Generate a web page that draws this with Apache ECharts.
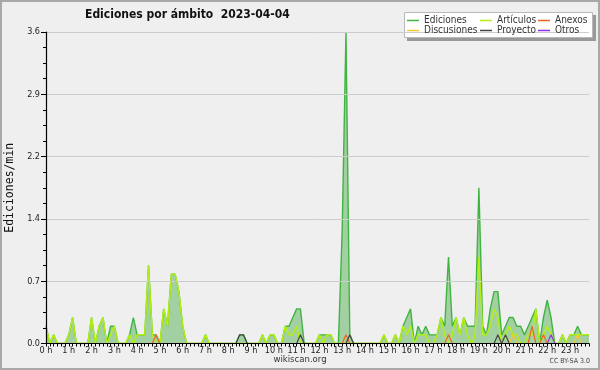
<!DOCTYPE html>
<html>
<head>
<meta charset="utf-8">
<script src="https://cdn.jsdelivr.net/npm/echarts@6/dist/echarts.min.js"></script>
<style>
  html, body { margin: 0; padding: 0; background: #efeff0; }
  #chart { width: 600px; height: 370px; }
</style>
</head>
<body>
<div id="chart"></div>
<script>
// one value every 10 minutes, one row per hour
const HOUR_LABELS = ['0 h', '1 h', '2 h', '3 h', '4 h', '5 h', '6 h', '7 h', '8 h', '9 h', '10 h', '11 h',
  '12 h', '13 h', '14 h', '15 h', '16 h', '17 h', '18 h', '19 h', '20 h', '21 h', '22 h', '23 h']

const ediciones = [
  0.2, 0, 0.1, 0, 0, 0,
  0.1, 0.3, 0, 0, 0, 0,
  0.3, 0, 0.2, 0.3, 0, 0.2,
  0.2, 0, 0, 0, 0.1, 0.3,
  0.1, 0.1, 0.1, 0.9, 0.1, 0.1,
  0, 0.4, 0.2, 0.8, 0.8, 0.6,
  0.2, 0, 0, 0, 0, 0,
  0.1, 0, 0, 0, 0, 0,
  0, 0, 0, 0.1, 0.1, 0,
  0, 0, 0, 0.1, 0, 0.1,
  0.1, 0, 0, 0.2, 0.2, 0.3,
  0.4, 0.4, 0, 0, 0, 0,
  0.1, 0.1, 0.1, 0.1, 0, 0,
  1.3, 3.6, 0.1, 0, 0, 0,
  0, 0, 0, 0, 0, 0.1,
  0, 0, 0.1, 0, 0.2, 0.3,
  0.4, 0, 0.2, 0.1, 0.2, 0.1,
  0.1, 0.1, 0.3, 0.2, 1.0, 0.2,
  0.3, 0.1, 0.3, 0.2, 0.2, 0.2,
  1.8, 0.2, 0.1, 0.4, 0.6, 0.6,
  0.1, 0.2, 0.3, 0.3, 0.2, 0.2,
  0.1, 0.2, 0.3, 0.4, 0, 0.3,
  0.5, 0.3, 0, 0, 0.1, 0,
  0.1, 0.1, 0.2, 0.1, 0.1, 0.1,
]
const articulos = [
  0.2, 0, 0.1, 0, 0, 0,
  0.1, 0.3, 0, 0, 0, 0,
  0.3, 0, 0.2, 0.3, 0, 0.1,
  0.2, 0, 0, 0, 0.1, 0,
  0.1, 0.1, 0.1, 0.9, 0.1, 0,
  0, 0.4, 0.2, 0.8, 0.8, 0.6,
  0.2, 0, 0, 0, 0, 0,
  0.1, 0, 0, 0, 0, 0,
  0, 0, 0, 0, 0, 0,
  0, 0, 0, 0.1, 0, 0.1,
  0.1, 0, 0, 0.2, 0.1, 0.1,
  0.2, 0, 0, 0, 0, 0,
  0.1, 0, 0.1, 0.1, 0, 0,
  0, 0, 0, 0, 0, 0,
  0, 0, 0, 0, 0, 0.1,
  0, 0, 0.1, 0, 0.2, 0.1,
  0.2, 0, 0.1, 0.1, 0.1, 0,
  0, 0.1, 0.3, 0.1, 0, 0.1,
  0.3, 0.1, 0.3, 0.1, 0, 0.1,
  1.0, 0.1, 0.1, 0.2, 0.4, 0.3,
  0, 0.1, 0.2, 0.1, 0.1, 0,
  0, 0.1, 0.1, 0.4, 0, 0.1,
  0.2, 0.1, 0, 0, 0.1, 0,
  0.1, 0.1, 0.1, 0.1, 0.1, 0.1,
]
const anexos = [
  0, 0, 0, 0, 0, 0,  0, 0, 0, 0, 0, 0,  0, 0, 0, 0, 0, 0,  0, 0, 0, 0, 0, 0,
  0, 0, 0, 0, 0, 0.1,  0, 0, 0, 0, 0, 0,  0, 0, 0, 0, 0, 0,  0, 0, 0, 0, 0, 0,
  0, 0, 0, 0, 0, 0,  0, 0, 0, 0, 0, 0,  0, 0, 0, 0, 0, 0,  0, 0, 0, 0, 0, 0,
  0, 0, 0, 0, 0, 0,  0, 0.1, 0, 0, 0, 0,  0, 0, 0, 0, 0, 0,  0, 0, 0, 0, 0, 0,
  0, 0, 0, 0, 0, 0,  0, 0, 0, 0, 0.1, 0,  0, 0, 0, 0, 0, 0,  0, 0, 0, 0, 0, 0,
  0, 0, 0, 0, 0, 0,  0, 0, 0.2, 0, 0, 0.1,  0, 0, 0, 0, 0, 0,  0, 0, 0, 0, 0, 0,
]
const discusiones = [
  0, 0, 0, 0, 0, 0,  0, 0, 0, 0, 0, 0,  0, 0, 0, 0, 0, 0,  0, 0, 0, 0, 0, 0,
  0, 0, 0, 0, 0, 0,  0, 0, 0, 0, 0, 0,  0, 0, 0, 0, 0, 0,  0, 0, 0, 0, 0, 0,
  0, 0, 0, 0, 0, 0,  0, 0, 0, 0, 0, 0,  0, 0, 0, 0, 0, 0,  0, 0, 0, 0, 0, 0,
  0, 0, 0, 0, 0, 0,  0, 0, 0, 0, 0, 0,  0, 0, 0, 0, 0, 0,  0, 0, 0, 0, 0, 0,
  0, 0, 0, 0, 0, 0,  0, 0, 0, 0, 0, 0,  0, 0, 0, 0, 0, 0,  0, 0, 0, 0, 0, 0,
  0, 0, 0, 0.1, 0, 0,  0, 0, 0, 0, 0, 0,  0, 0, 0, 0, 0, 0,  0, 0, 0.1, 0, 0, 0,
]
const proyecto = [
  0, 0, 0, 0, 0, 0,  0, 0, 0, 0, 0, 0,  0, 0, 0, 0, 0, 0,  0, 0, 0, 0, 0, 0,
  0, 0, 0, 0, 0, 0,  0, 0, 0, 0, 0, 0,  0, 0, 0, 0, 0, 0,  0, 0, 0, 0, 0, 0,
  0, 0, 0, 0.1, 0.1, 0,  0, 0, 0, 0, 0, 0,  0, 0, 0, 0, 0, 0,  0, 0.1, 0, 0, 0, 0,
  0, 0, 0, 0, 0, 0,  0, 0, 0.1, 0, 0, 0,  0, 0, 0, 0, 0, 0,  0, 0, 0, 0, 0, 0,
  0, 0, 0, 0, 0, 0,  0, 0, 0, 0, 0, 0,  0, 0, 0, 0, 0, 0,  0, 0, 0, 0, 0, 0.1,
  0, 0.1, 0, 0, 0, 0,  0, 0, 0, 0, 0, 0,  0, 0, 0, 0, 0, 0,  0, 0, 0, 0, 0, 0,
]
const otros = [
  0, 0, 0, 0, 0, 0,  0, 0, 0, 0, 0, 0,  0, 0, 0, 0, 0, 0,  0, 0, 0, 0, 0, 0,
  0, 0, 0, 0, 0, 0,  0, 0, 0, 0, 0, 0,  0, 0, 0, 0, 0, 0,  0, 0, 0, 0, 0, 0,
  0, 0, 0, 0, 0, 0,  0, 0, 0, 0, 0, 0,  0, 0, 0, 0, 0, 0,  0, 0, 0, 0, 0, 0,
  0, 0, 0, 0, 0, 0,  0, 0, 0, 0, 0, 0,  0, 0, 0, 0, 0, 0,  0, 0, 0, 0, 0, 0,
  0, 0, 0, 0, 0, 0,  0, 0, 0, 0, 0, 0,  0, 0, 0, 0, 0, 0,  0, 0, 0, 0, 0, 0,
  0, 0, 0, 0, 0, 0,  0, 0, 0, 0, 0, 0,  0, 0.1, 0, 0, 0, 0,  0, 0, 0, 0, 0, 0,
]

// 10-minute slots for the category axis
const slots = []
HOUR_LABELS.forEach((h, hi) => {
  for (let m = 0; m < 60; m += 10) slots.push(hi + ':' + String(m).padStart(2, '0'))
})

const FONT = 'DejaVu Sans Condensed'
const chart = echarts.init(document.getElementById('chart'), null, { renderer: 'canvas' })

const line = (name, data, color, width) => ({
  name,
  type: 'line',
  data,
  color,
  showSymbol: false,
  symbol: 'none',
  lineStyle: { width, color },
})

const legendBase = {
  orient: 'vertical',
  top: 15.5,
  z: 20,
  padding: 0,
  itemGap: 0,
  itemWidth: 12,
  itemHeight: 1.5,
  icon: 'rect',
  selectedMode: false,
  textStyle: { fontFamily: FONT, fontSize: 10, color: '#333', lineHeight: 9.4, padding: [0, 0, 0, 0] },
}

chart.setOption({
  backgroundColor: '#efeff0',
  animation: false,
  title: {
    text: 'Ediciones por ámbito  2023-04-04',
    left: 85,
    top: 9,
    padding: 0,
    textStyle: { fontFamily: FONT, fontSize: 12, fontWeight: 'bold', color: '#111' },
  },
  grid: { left: 46, right: 11, top: 32, bottom: 26.5, containLabel: false, outerBoundsMode: 'none' },
  legend: [
    { ...legendBase, left: 407, data: ['Ediciones', 'Discusiones'] },
    { ...legendBase, left: 480, data: ['Artículos', 'Proyecto'] },
    { ...legendBase, left: 538, data: ['Anexos', 'Otros'] },
  ],
  xAxis: {
    type: 'category',
    data: slots,
    boundaryGap: false,
    z: 10,
    axisLine: { lineStyle: { color: '#000', width: 1.2 } },
    axisTick: { interval: 0, length: 3, lineStyle: { color: '#000' } },
    axisLabel: {
      interval: (idx) => idx % 6 === 0,
      formatter: (v, idx) => HOUR_LABELS[idx / 6] || '',
      fontFamily: FONT,
      fontSize: 9,
      color: '#222',
      margin: 3,
    },
    splitLine: { show: false },
  },
  yAxis: {
    type: 'value',
    min: 0,
    max: 3.6,
    interval: 0.72,
    z: 10,
    name: 'Ediciones/min',
    nameLocation: 'middle',
    nameGap: 30,
    nameTextStyle: { fontFamily: 'DejaVu Sans Mono', fontSize: 11.5, color: '#111' },
    axisLine: { show: true, lineStyle: { color: '#000', width: 1.2 } },
    axisTick: { show: true, length: 5, lineStyle: { color: '#000' } },
    minorTick: { show: true, splitNumber: 4, length: 3, lineStyle: { color: '#000' } },
    axisLabel: {
      formatter: (v) => v.toFixed(1),
      fontFamily: FONT,
      fontSize: 9,
      color: '#222',
      margin: 6,
    },
    splitLine: { lineStyle: { color: '#cccccc', width: 1 } },
  },
  series: [
    {
      ...line('Ediciones', ediciones, '#40b440', 1.4),
      areaStyle: { color: '#a3d0a3', opacity: 1 },
    },
    line('Artículos', articulos, '#b4ee12', 1.5),
    line('Anexos', anexos, '#f0661e', 1.2),
    line('Discusiones', discusiones, '#fcc62e', 1.2),
    line('Proyecto', proyecto, '#454545', 1.2),
    line('Otros', otros, '#8b34e8', 1.2),
  ],
  graphic: [
    { type: 'rect', z: -10, shape: { x: 1, y: 1, width: 598, height: 368 },
      style: { fill: 'none', stroke: '#a8a8a8', lineWidth: 2 } },
    { type: 'rect', z: 1, shape: { x: 407, y: 15, width: 189, height: 26 }, style: { fill: '#999' } },
    { type: 'rect', z: 2, shape: { x: 404.5, y: 12.5, width: 188, height: 25 },
      style: { fill: '#fff', stroke: '#b8b8b8', lineWidth: 1 } },
    { type: 'text', left: 'center', top: 355,
      style: { text: 'wikiscan.org', fontFamily: FONT, fontSize: 9.5, fill: '#333' } },
    { type: 'text', right: 10, top: 358,
      style: { text: 'CC BY-SA 3.0', fontFamily: FONT, fontSize: 7, fill: '#444' } },
  ],
})
</script>
</body>
</html>
